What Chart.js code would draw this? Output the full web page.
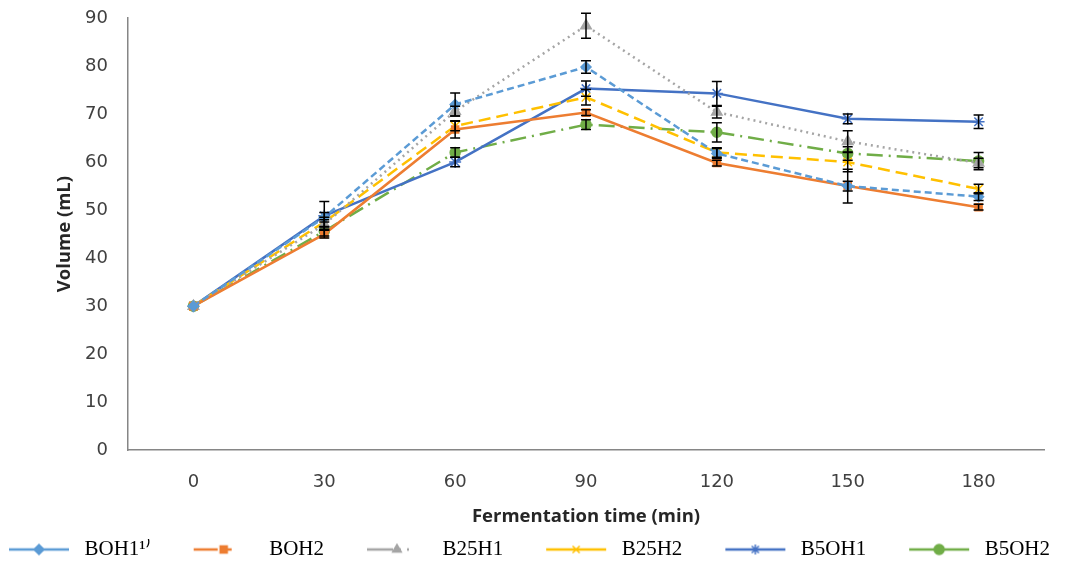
<!DOCTYPE html>
<html>
<head>
<meta charset="utf-8">
<script src="https://cdn.jsdelivr.net/npm/chart.js@4"></script>
<style>
  html, body { margin: 0; padding: 0; background: #fff; }
  #wrap { width: 1080px; height: 562px; position: relative; }
</style>
</head>
<body>
<div id="wrap"><canvas id="myChart" width="1080" height="562"></canvas></div>
<script>
// fermentation time (min)
const times = ["0", "30", "60", "90", "120", "150", "180"];
const seriesNames = ["BOH1\u00B9\u207E", "BOH2", "B25H1", "B25H2", "B5OH1", "B5OH2"];

// volume (mL)
const boh1  = [30, 48.5, 72, 79.8, 61.8, 55, 52.8];
const boh2  = [30, 45, 66.8, 70.3, 59.8, 55, 50.6];
const b25h1 = [30, 47, 70.6, 88.4, 70.4, 64.3, 59.8];
const b25h2 = [30, 47.5, 67.5, 73.5, 62, 60, 54.4];
const b5oh1 = [30, 48.8, 60, 75.3, 74.3, 69, 68.4];
const b5oh2 = [30, 45.6, 62, 67.8, 66.2, 61.8, 60.2];

// error bar half-lengths
const errBoh1  = [0, 1, 2.4, 1.3, 1, 1, 0.8];
const errBoh2  = [0, 0.8, 1.8, 0.6, 0.6, 3.5, 0.6];
const errB25h1 = [0, 1, 1, 2.6, 1.2, 2.2, 1];
const errB25h2 = [0, 1, 1, 1.6, 1, 2, 1];
const errB5oh1 = [0, 3, 1, 1.6, 2.5, 1, 1.4];
const errB5oh2 = [0, 1, 1, 1, 2, 1.4, 1.8];

const colors = ["#5B9BD5", "#ED7D31", "#A5A5A5", "#FFC000", "#4472C4", "#70AD47"];
const dashes = [[7, 4], [], [2, 4], [12, 6], [], [16, 6, 2, 6]];
const markers = ["rectRot", "rect", "triangle", "crossRot", "star", "circle"];
const values = [boh1, boh2, b25h1, b25h2, b5oh1, b5oh2];
const errors = [errBoh1, errBoh2, errB25h1, errB25h2, errB5oh1, errB5oh2];

const BOX = 108;   // legend box width, line sample sits in its right part
const SHIFT = 34;  // legend starts left of the canvas so the first sample lands near the edge

// small canvases for the legend: line sample with a marker in the middle
function legendSample(i) {
    const c = document.createElement('canvas');
    c.width = BOX; c.height = 14;
    const g = c.getContext('2d');
    const x0 = BOX - 65, x1 = BOX - 5;
    g.strokeStyle = colors[i];
    g.fillStyle = colors[i];
    g.lineWidth = 2.5;
    g.setLineDash(i === 1 ? [24, 8, 6, 30] : (i === 2 ? [26, 6, 2, 6, 2, 30] : []));
    g.beginPath(); g.moveTo(x0, 7); g.lineTo(x1, 7); g.stroke();
    g.setLineDash([]);
    g.lineWidth = 1.5;
    Chart.helpers.drawPoint(g, {pointStyle: markers[i], radius: 5, borderWidth: 1.5}, (x0 + x1) / 2, 7);
    return c;
}

const errorBars = {
    id: 'errorBars',
    afterDatasetsDraw(chart) {
        const ctx = chart.ctx;
        const yScale = chart.scales.y;
        ctx.save();
        ctx.strokeStyle = '#000';
        ctx.lineWidth = 1.5;
        chart.data.datasets.forEach((ds, i) => {
            const meta = chart.getDatasetMeta(i);
            meta.data.forEach((pt, j) => {
                const e = errors[i][j];
                if (!e) return;
                const top = yScale.getPixelForValue(ds.data[j] + e);
                const bot = yScale.getPixelForValue(ds.data[j] - e);
                ctx.beginPath();
                ctx.moveTo(pt.x, top); ctx.lineTo(pt.x, bot);
                ctx.moveTo(pt.x - 5, top); ctx.lineTo(pt.x + 5, top);
                ctx.moveTo(pt.x - 5, bot); ctx.lineTo(pt.x + 5, bot);
                ctx.stroke();
            });
        });
        ctx.restore();
    }
};

const datasets = seriesNames.map((name, i) => ({
    label: name,
    data: values[i],
    borderColor: colors[i],
    backgroundColor: colors[i],
    borderDash: dashes[i],
    borderWidth: 2.5,
    pointStyle: markers[i],
    pointRadius: i === 2 || i === 3 || i === 4 ? 6 : 5,
    pointBorderColor: colors[i],
    pointBackgroundColor: colors[i],
    pointBorderWidth: 1.5,
    lineTension: 0
}));

var ctx = document.getElementById('myChart').getContext('2d');
var chart = new Chart(ctx, {
    type: 'line',
    data: { labels: times, datasets: datasets },
    plugins: [errorBars],
    options: {
        responsive: false,
        animation: false,
        devicePixelRatio: 1,
        layout: { padding: { left: -SHIFT, right: 0, top: 18, bottom: -8 } },
        plugins: {
            tooltip: { enabled: false },
            legend: {
                position: 'bottom',
                align: 'start',
                labels: {
                    usePointStyle: true,
                    pointStyleWidth: BOX,
                    padding: 0,
                    color: '#000',
                    font: { family: '"Liberation Serif", serif', size: 21 },
                    generateLabels(chart) {
                        return chart.data.datasets.map((ds, i) => ({
                            text: ds.label,
                            pointStyle: legendSample(i),
                            fillStyle: colors[i],
                            strokeStyle: colors[i],
                            lineWidth: 0,
                            hidden: false,
                            datasetIndex: i
                        }));
                    }
                }
            }
        },
        scales: {
            x: {
                offset: true,
                grid: { display: false, drawTicks: false },
                border: { color: '#868686', width: 1.5 },
                ticks: { color: '#404040', padding: 21, font: { family: '"DejaVu Sans"', size: 18 } },
                title: {
                    display: true,
                    text: 'Fermentation time (min)',
                    color: '#262626',
                    padding: { top: -8, bottom: 11 },
                    font: { family: '"Open Sans"', size: 18.5, weight: 'bold' }
                }
            },
            y: {
                min: 0,
                max: 90,
                grid: { display: false, drawTicks: false },
                border: { color: '#868686', width: 1.5 },
                ticks: { stepSize: 10, color: '#404040', padding: 20, font: { family: '"DejaVu Sans"', size: 18 } },
                title: {
                    display: true,
                    text: 'Volume (mL)',
                    color: '#262626',
                    padding: { top: 54 + SHIFT, bottom: 0 },
                    font: { family: '"Open Sans"', size: 18.5, weight: 'bold' }
                },
                afterFit(s) {
                    s.width = 128 + SHIFT;
                    s.paddingTop = 11;
                    s.paddingBottom = 11;
                }
            },
            // empty axis that only keeps the right margin
            yRight: {
                position: 'right',
                display: true,
                grid: { display: false, drawTicks: false },
                border: { display: false },
                ticks: { display: false },
                afterFit(s) {
                    s.width = 36;
                    s.paddingTop = 0;
                    s.paddingBottom = 0;
                }
            }
        }
    }
});
</script>
</body>
</html>
